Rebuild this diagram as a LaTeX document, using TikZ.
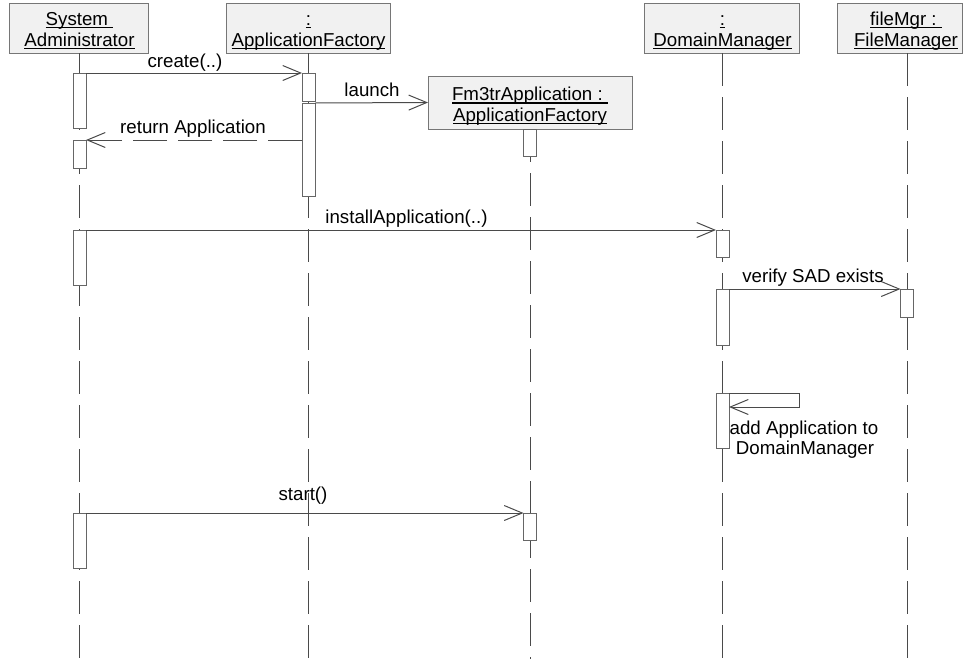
\documentclass[tikz,border=0pt]{standalone}
\usepackage{fontspec}
\setmainfont{Liberation Sans}
\usetikzlibrary{arrows.meta}
% underlined text whose rule crosses the descenders, as in UML object names
\newcommand\objname[1]{\setbox0\hbox{#1}\rlap{\rule[-3.1pt]{\wd0}{1.4pt}}\box0}
\definecolor{headfill}{HTML}{F1F1F1}
\definecolor{headline}{HTML}{767676}
\definecolor{actline}{HTML}{666666}
\definecolor{wire}{HTML}{4A4A4A}
\begin{document}
\begin{tikzpicture}[x=1pt,y=-1pt,
  every node/.style={font=\fontsize{18.7}{19}\selectfont, inner sep=0pt, outer sep=0pt},
  headbox/.style={draw=headline, fill=headfill, line width=1pt},
  lbl/.style={anchor=base, text=black},
  act/.style={draw=actline, fill=white, line width=1pt, minimum width=13pt,
              anchor=north, minimum height=#1},
  lifeline/.style={draw=wire, line width=1pt, dash pattern=on 33pt off 11pt},
  msg/.style={draw=wire, line width=1pt,
              -{Straight Barb[length=18pt,width=15pt,line width=1pt]}},
  reply/.style={msg, dash pattern=on 34pt off 11pt}]
\useasboundingbox (0,0) rectangle (966,659);
\coordinate (bottom) at (0,659);

% object heads
\node[headbox, minimum width=139pt, minimum height=50pt] (sa) at (78.5,28) {};
\node[lbl] (sa-l1) at (79.5,25) {\objname{System\ }};
\node[lbl] (sa-l2) at (79.5,46) {\objname{Administrator}};

\node[headbox, minimum width=164pt, minimum height=50pt] (af) at (308,28) {};
\node[lbl] (af-l1) at (308.5,25) {\objname{:}};
\node[lbl] (af-l2) at (308.5,46) {\objname{ApplicationFactory}};

\node[headbox, minimum width=155pt, minimum height=50pt] (dm) at (721.5,28) {};
\node[lbl] (dm-l1) at (722.5,25) {\objname{:}};
\node[lbl] (dm-l2) at (722.5,46) {\objname{DomainManager}};

\node[headbox, minimum width=125pt, minimum height=50pt] (fmg) at (899.5,28) {};
\node[lbl] (fmg-l1) at (906,25) {\objname{fileMgr :\ }};
\node[lbl] (fmg-l2) at (906,46) {\objname{FileManager}};

\coordinate (sa-top) at (79.5,53);
\coordinate (af-top) at (308.5,53);
\coordinate (dm-top) at (722.5,53);
\coordinate (fmg-top) at (907,53);
\coordinate (fm3-top) at (530,129);

% lifelines
\draw[lifeline] (sa-top) -- (sa-top |- bottom);
\draw[lifeline] (af-top) -- (af-top |- bottom);
\draw[lifeline] (fm3-top) -- (fm3-top |- bottom);
\draw[lifeline] (dm-top) -- (dm-top |- bottom);
\draw[lifeline] (fmg-top) -- (fmg-top |- bottom);

% created object
\node[headbox, minimum width=204pt, minimum height=53pt] (fm3) at (530,102.5) {};
\node[lbl] (fm3-l1) at (530,100.5) {\objname{Fm3trApplication :\ }};
\node[lbl] (fm3-l2) at (530,121) {\objname{ApplicationFactory}};

% activations
\node[act=55] (sa-a1) at (79.5,73) {};
\node[act=28] (sa-a2) at (79.5,140) {};
\node[act=55] (sa-a3) at (79.5,230) {};
\node[act=55] (sa-a4) at (79.5,513) {};
\node[act=28] (af-a1) at (308.5,73) {};
\node[act=93] (af-a2) at (308.5,103) {};
\node[act=27] (fm3-a1) at (530,129) {};
\node[act=27] (fm3-a2) at (530,513) {};
\node[act=27] (dm-a1) at (722.5,230) {};
\node[act=56] (dm-a2) at (722.5,289) {};
\node[act=55] (dm-a3) at (722.5,393) {};
\node[act=28] (fmg-a1) at (907,289) {};

% messages
\draw[msg] (sa-a1.north east) -- (af-a1.north west);
\node[lbl] (m-create) at (185,67.5) {create(..)};

\draw[msg] (af-a2.north east) -- (fm3.west);
\node[lbl] (m-launch) at (372,96.5) {launch};

\draw[reply] (af-a2.west |- sa-a2.north) -- (sa-a2.north east);
\node[lbl] (m-return) at (193,133) {return Application};

\draw[msg] (sa-a3.north east) -- (dm-a1.north west);
\node[lbl] (m-install) at (406.5,223) {installApplication(..)};

\draw[msg] (dm-a2.north east) -- (fmg-a1.north west);
\node[lbl] (m-verify) at (813,282.5) {verify SAD exists};

\coordinate (self-out) at (799,393);
\coordinate (self-back) at (799,407);
\draw[msg] (dm-a3.north east) -- (self-out) -- (self-back) -- (dm-a3.east |- self-back);
\node[lbl] (m-add1) at (804,434) {add Application to};
\node[lbl] (m-add2) at (805,454) {DomainManager};

\draw[msg] (sa-a4.north east) -- (fm3-a2.north west);
\node[lbl] (m-start) at (303,500) {start()};
\end{tikzpicture}
\end{document}
